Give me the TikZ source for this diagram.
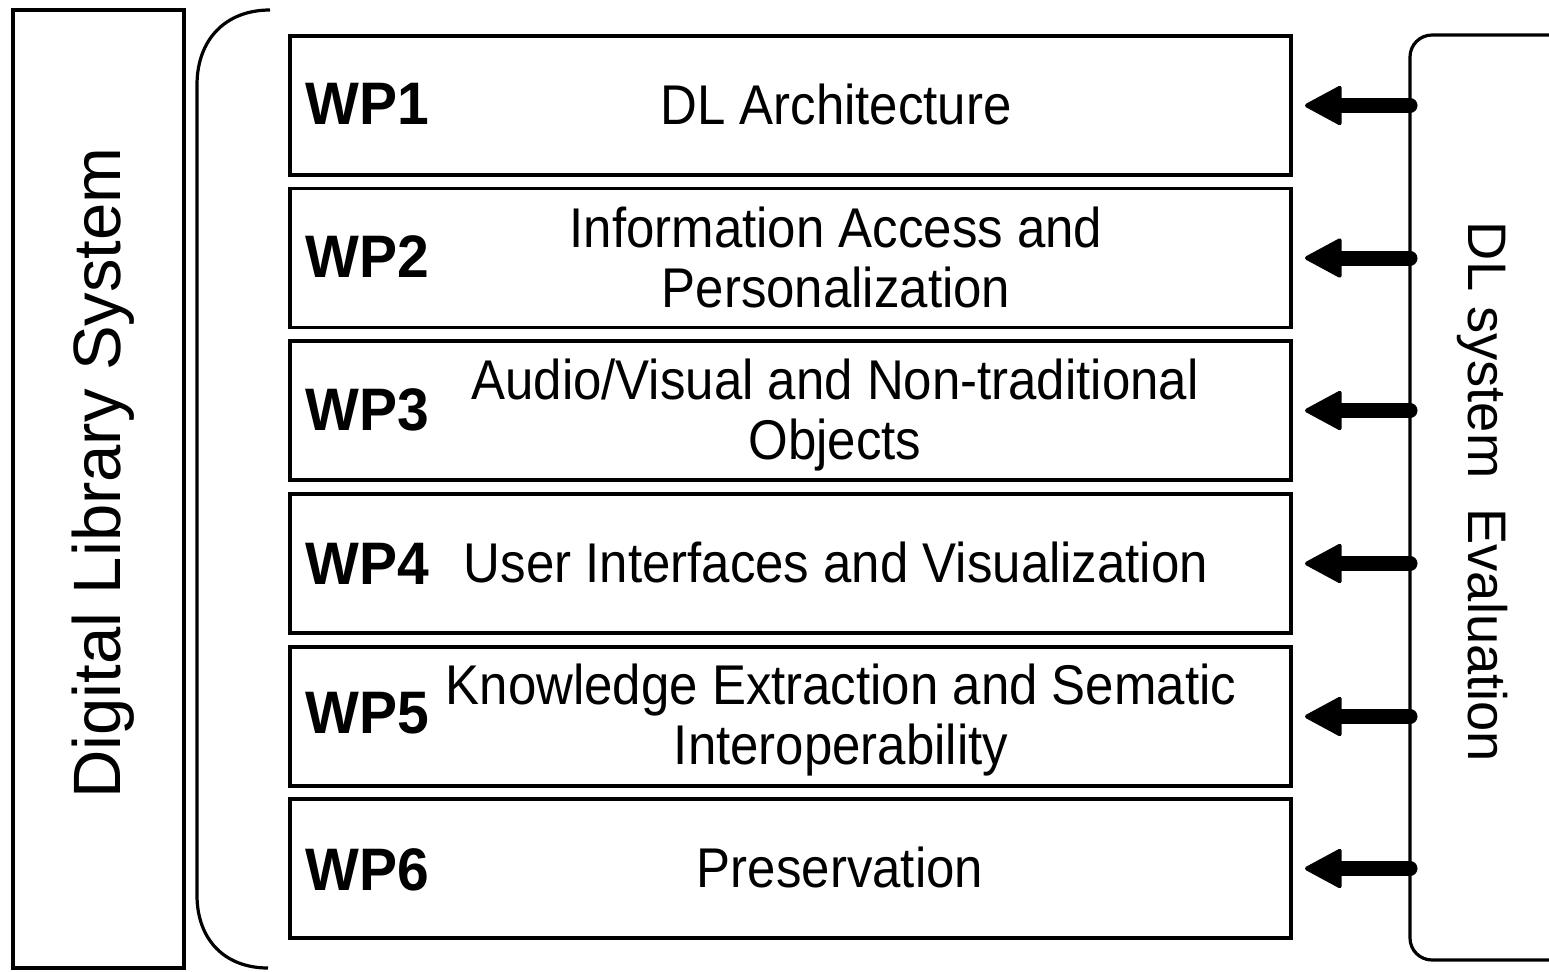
\documentclass[tikz,border=0pt]{standalone}
\usepackage{fontspec}
\setmainfont{Liberation Sans}
\newfontfamily\narrowfont[FakeStretch=0.91]{Liberation Sans}
\newfontfamily\narrowbold[FakeStretch=0.95]{Liberation Sans Bold}
\usetikzlibrary{arrows.meta}
\tikzset{
  frame/.style={draw=black, line width=1.6pt, inner sep=0pt, outer sep=0pt},
  wpbox/.style={frame, minimum width=500.5pt, minimum height=69.5pt},
  wplabel/.style={inner sep=0pt, anchor=west, font=\narrowbold\fontsize{30pt}{32pt}\selectfont},
  wptext/.style={inner sep=0pt, align=center, font=\narrowfont\fontsize{28pt}{30pt}\selectfont},
  bigarrow/.style={line width=7.5pt, line cap=round, -{Triangle[length=19.5pt, width=20.5pt, line width=2pt, round]}, shorten >=7pt}
}
\begin{document}
\begin{tikzpicture}[x=0.5pt, y=-0.5pt]
\clip (0,0) rectangle (1549,971);
\fill[white] (0,0) rectangle (1549,971);

% left box
\node[frame, minimum width=85.5pt, minimum height=479pt] (dls) at (98.5,489) {};
\node[rotate=90, anchor=base, inner sep=0pt, font=\fontsize{33.5pt}{36pt}\selectfont] (dlstext) at (120,473) {Digital Library System};

% bracket
\draw[line width=1.6pt] (270,10) .. controls (225,10) and (197,40) .. (197,85) -- (197,895) .. controls (197,940) and (225,968) .. (268,968);

% right box
\node[frame, rounded corners=11pt, minimum width=95pt, minimum height=462.5pt] (eval) at (1505,497.5) {};
\node[rotate=-90, anchor=base, inner sep=0pt, font=\fontsize{27.15pt}{30pt}\selectfont] (evaltext) at (1468,492) {DL system\ \ Evaluation};

% WP boxes
\node[wpbox] (wp1) at (790.5,105.5) {};
\node[wpbox] (wp2) at (790.5,258) {};
\node[wpbox] (wp3) at (790.5,410.5) {};
\node[wpbox] (wp4) at (790.5,563.5) {};
\node[wpbox] (wp5) at (790.5,716.5) {};
\node[wpbox] (wp6) at (790.5,868.5) {};

\node[wplabel] (l1) at (305,103.5) {WP1};
\node[wplabel] (l2) at (305,257) {WP2};
\node[wplabel] (l3) at (305,409.5) {WP3};
\node[wplabel] (l4) at (305,564) {WP4};
\node[wplabel] (l5) at (305,713.5) {WP5};
\node[wplabel] (l6) at (305,869.5) {WP6};

\node[wptext] (t1) at (836,104.5) {DL Architecture};
\node[wptext] (t2) at (836,257.5) {Information Access and\\Personalization};
\node[wptext] (t3) at (835,415.5) {Audio/Visual and Non-traditional\\Objects};
\node[wptext] (t4) at (836,562.5) {User Interfaces and Visualization};
\node[wptext] (t5) at (841,720.5) {Knowledge Extraction and Sematic\\Interoperability};
\node[wptext] (t6) at (840,867.5) {Preservation};

% arrows
\foreach \i in {1,...,6}{
  \draw[bigarrow] (eval.west |- wp\i.east) -- (wp\i.east);
}
\end{tikzpicture}
\end{document}
